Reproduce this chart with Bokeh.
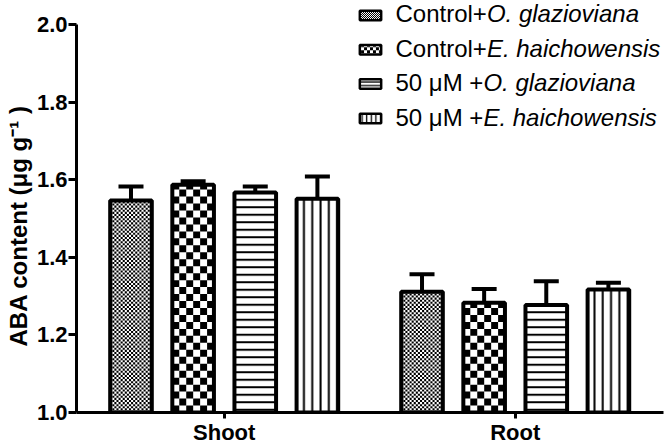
import math
from bokeh.plotting import figure
from bokeh.models import (Range1d, FixedTicker, Whisker, TeeHead, ColumnDataSource, Label, Title)
from bokeh.embed import file_html
from bokeh.resources import INLINE

# ---------------- data ----------------
groups = ["Shoot", "Root"]
series_prefix = ["Control+", "Control+", "50 \u03bcM +", "50 \u03bcM +"]
series_species = ["O. glazioviana", "E. haichowensis", "O. glazioviana", "E. haichowensis"]

ctrl_og = [1.546, 1.311]
ctrl_og_err = [0.036, 0.045]
ctrl_eh = [1.587, 1.283]
ctrl_eh_err = [0.009, 0.035]
um50_og = [1.567, 1.277]
um50_og_err = [0.015, 0.061]
um50_eh = [1.551, 1.317]
um50_eh_err = [0.057, 0.017]

y_ticks = [1.0, 1.2, 1.4, 1.6, 1.8, 2.0]
y_title = "ABA content (\u03bcg g\u207b\u00b9 )"

means = [ctrl_og, ctrl_eh, um50_og, um50_eh]
errs = [ctrl_og_err, ctrl_eh_err, um50_og_err, um50_eh_err]

# ---------------- styling ----------------
FONT = "Liberation Sans"
W, H = 670, 447
LEFT, RIGHT, BOTTOM = 72, 7, 33
frame_w = W - LEFT - RIGHT
frame_h = H - BOTTOM
px_x = 293.0   # pixels per x unit (group spacing)
px_y = 390.0   # pixels per y unit
x0 = 1 - 148.7 / px_x
step = 0.2135
bar_w = 0.143


def sx2d(px):   # page pixel x -> data x
    return x0 + (px - LEFT) / px_x


def sy2d(py):   # page pixel y -> data y
    return 1.0 + (frame_h - py) / px_y


def checker_quads(left, right, bottom, top, sq_px):
    dx, dy = sq_px / px_x, sq_px / px_y
    L, R, B, T = [], [], [], []
    ncol = int(math.ceil((right - left) / dx - 1e-6))
    nrow = int(math.ceil((top - bottom) / dy - 1e-6))
    for r in range(nrow):
        b = bottom + r * dy
        t = min(b + dy, top)
        for c in range(ncol):
            if (r + c) % 2 == 0:
                l = left + c * dx
                L.append(l); R.append(min(l + dx, right)); B.append(b); T.append(t)
    return L, R, B, T


p = figure(width=W, height=H, output_backend="svg", toolbar_location=None,
           x_range=Range1d(x0, x0 + frame_w / px_x),
           y_range=Range1d(1.0, 1.0 + frame_h / px_y),
           min_border_left=LEFT, min_border_right=RIGHT, min_border_top=0, min_border_bottom=BOTTOM)
p.grid.visible = False
p.outline_line_color = None
p.background_fill_color = "white"
p.border_fill_color = "white"

bar_patterns = [None, None, "horizontal_line", "vertical_line"]
bar_scales = [1, 1, 7.5, 8.3]
checker_px = [2.1, 7.0, None, None]   # checker square size (bars)
sw_checker_px = [1.0, 3.0, None, None]  # checker square size (legend swatches)
sw_scales = [1, 1, 3.6, 4.6]

for i in range(4):
    off = (i - 1.5) * step
    xs = [g + 1 + off for g in range(len(groups))]
    tops = means[i]
    uppers = [m + e for m, e in zip(means[i], errs[i])]
    src = ColumnDataSource(dict(x=xs, top=tops, upper=uppers))
    kw = {}
    if bar_patterns[i]:
        kw = dict(hatch_pattern=bar_patterns[i], hatch_color="black", hatch_alpha=1.0,
                  hatch_scale=bar_scales[i], hatch_weight=2)
    p.vbar(x="x", top="top", bottom=1.0, width=bar_w, source=src,
           fill_color="white", line_color=None, **kw)
    if checker_px[i]:
        L, R, B, T = [], [], [], []
        for xc, top in zip(xs, tops):
            l, r, b, t = checker_quads(xc - bar_w / 2, xc + bar_w / 2, 1.0, top, checker_px[i])
            L += l; R += r; B += b; T += t
        p.quad(left=L, right=R, bottom=B, top=T, fill_color="black", line_color=None)
    p.vbar(x="x", top="top", bottom=1.0, width=bar_w, source=src,
           fill_alpha=0, line_color="black", line_width=4)
    p.add_layout(Whisker(source=src, base="x", upper="upper", lower="top", dimension="height",
                         line_color="black", line_width=4,
                         upper_head=TeeHead(size=25, line_width=4, line_color="black"),
                         lower_head=None))

# ---------------- legend (drawn by hand for the mixed roman / italic labels) ----------------
row_y0, row_pitch = 15.0, 34.5          # page pixel centres of rows
sw_l, sw_r, sw_half_h, sw_lw = 357.25, 378.75, 4.75, 2.5
text_x = 391
prefix_w = [91.4, 91.4, 87.9, 87.9]
for i in range(4):
    yc = row_y0 + i * row_pitch
    kw = {}
    if bar_patterns[i]:
        kw = dict(hatch_pattern=bar_patterns[i], hatch_color="black", hatch_alpha=1.0,
                  hatch_scale=sw_scales[i], hatch_weight=1.3)
    p.quad(left=[sx2d(sw_l)], right=[sx2d(sw_r)], bottom=[sy2d(yc + sw_half_h)], top=[sy2d(yc - sw_half_h)],
           fill_color="white", line_color=None, **kw)
    if sw_checker_px[i]:
        inner = sw_lw / 2
        l, r, b, t = checker_quads(sx2d(sw_l + inner), sx2d(sw_r - inner),
                                   sy2d(yc + sw_half_h - inner), sy2d(yc - sw_half_h + inner),
                                   sw_checker_px[i])
        p.quad(left=l, right=r, bottom=b, top=t, fill_color="black", line_color=None)
    p.quad(left=[sx2d(sw_l)], right=[sx2d(sw_r)], bottom=[sy2d(yc + sw_half_h)], top=[sy2d(yc - sw_half_h)],
           fill_alpha=0, line_color="black", line_width=sw_lw)
    p.add_layout(Label(x=text_x - LEFT, y=frame_h - yc, x_units="screen", y_units="screen",
                       text=series_prefix[i], text_font=FONT, text_font_style="normal",
                       text_font_size="24px", text_baseline="middle", text_color="black"))
    p.add_layout(Label(x=text_x - LEFT + prefix_w[i], y=frame_h - yc, x_units="screen", y_units="screen",
                       text=series_species[i], text_font=FONT, text_font_style="italic",
                       text_font_size="24px", text_baseline="middle", text_color="black"))

# ---------------- axes ----------------
p.yaxis.ticker = FixedTicker(ticks=y_ticks)
p.yaxis.major_label_overrides = {t: f"{t:.1f}" for t in y_ticks}
p.yaxis.bounds = (1.0, 2.0)

p.xaxis.ticker = FixedTicker(ticks=[1, 2])
p.xaxis.major_label_overrides = {i + 1: g for i, g in enumerate(groups)}

for ax in (p.xaxis, p.yaxis):
    ax.axis_line_width = 3
    ax.axis_line_color = "black"
    ax.major_tick_line_width = 3
    ax.major_tick_line_color = "black"
    ax.major_tick_in = 0
    ax.minor_tick_line_color = None
    ax.major_label_text_font = FONT
    ax.major_label_text_font_style = "bold"
    ax.major_label_text_font_size = "22px"
    ax.major_label_text_color = "black"

p.yaxis.major_tick_out = 8
p.yaxis.major_label_standoff = 1
p.xaxis.major_tick_out = 6
p.xaxis.major_label_standoff = 1

# y-axis title, placed in the left panel
p.add_layout(Title(text=y_title, align="left", offset=frame_h - 348, standoff=4,
                   text_font=FONT, text_font_style="bold", text_font_size="24px",
                   text_color="black"), "left")

open("out.html", "w").write(file_html(p, INLINE))
